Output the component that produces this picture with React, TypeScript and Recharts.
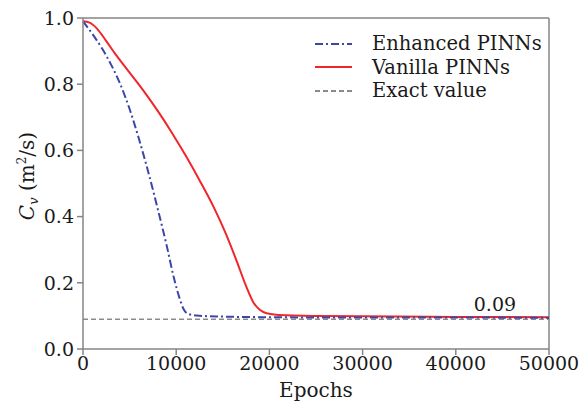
import { LineChart, Line, XAxis, YAxis, ReferenceLine, ReferenceDot, Label } from 'recharts'

const enhancedEpochs = [0, 1000, 2000, 3000, 4000, 5000, 6000, 7000, 8000, 9000, 9750, 10400, 10800, 11300, 12200, 15000, 20000, 30000, 40000, 50000]
const enhancedValues = [0.99, 0.952, 0.91, 0.86, 0.8, 0.725, 0.635, 0.535, 0.425, 0.31, 0.215, 0.15, 0.12, 0.106, 0.101, 0.098, 0.096, 0.095, 0.095, 0.094]

const vanillaEpochs = [0, 700, 1500, 2500, 3500, 5000, 6500, 8000, 9500, 11000, 12500, 14000, 15300, 16500, 17500, 18300, 19000, 19700, 21000, 25000, 30000, 40000, 50000]
const vanillaValues = [0.99, 0.986, 0.968, 0.93, 0.89, 0.835, 0.78, 0.72, 0.655, 0.585, 0.51, 0.43, 0.35, 0.265, 0.19, 0.14, 0.118, 0.108, 0.103, 0.1, 0.099, 0.097, 0.096]

const exactEpochs = [0, 50000]
const exactValue = 0.09

const xTicks = [0, 10000, 20000, 30000, 40000, 50000]
const yTicks = [0, 0.2, 0.4, 0.6, 0.8, 1.0]

const enhanced = enhancedEpochs.map((epoch, i) => ({ epoch, v: enhancedValues[i] }))
const vanilla = vanillaEpochs.map((epoch, i) => ({ epoch, v: vanillaValues[i] }))
const exact = exactEpochs.map((epoch) => ({ epoch, v: exactValue }))

// only DejaVu Serif resolves as a serif face here
const FONT = "'DejaVu Serif', serif"
const INK = '#1a1a1a'
const AXIS = '#858585'
const BLUE = '#3a47a8'
const RED = '#f0262a'
const GREY = '#8a8a8a'

const series = [
  { name: 'Enhanced PINNs', color: BLUE, dash: '8 3 2 3' },
  { name: 'Vanilla PINNs', color: RED, dash: undefined },
  { name: 'Exact value', color: GREY, dash: '5 3' },
]

function YLabel() {
  return (
    <text transform="translate(34,176) rotate(-90)" textAnchor="middle" fontFamily={FONT} fontSize={20} fill={INK}>
      <tspan fontStyle="italic">C</tspan>
      <tspan fontStyle="italic" fontSize={13} dy={4}>v</tspan>
      <tspan dy={-4}> (m</tspan>
      <tspan fontSize={12} dy={-8}>2</tspan>
      <tspan dy={8}>/s)</tspan>
    </text>
  )
}

export default function App() {
  const tickStyle = { fontFamily: FONT, fontSize: 19, fill: INK }
  return (
    <div style={{ position: 'absolute', left: 0, top: 0, width: 579, height: 403, background: '#fff' }}>
      <LineChart width={579} height={403} margin={{ top: 18, right: 30, left: 0, bottom: 0 }}>
        <XAxis
          dataKey="epoch"
          type="number"
          domain={[0, 50000]}
          ticks={xTicks}
          height={54}
          tick={tickStyle}
          tickSize={6}
          tickMargin={2}
          stroke={AXIS}
          strokeWidth={1.5}
          allowDuplicatedCategory={false}
        >
          <Label value="Epochs" position="insideBottom" offset={6} fontFamily={FONT} fontSize={20} fill={INK} />
        </XAxis>
        <YAxis
          type="number"
          domain={[0, 1]}
          ticks={yTicks}
          width={83}
          tick={tickStyle}
          tickSize={6}
          tickMargin={3}
          stroke={AXIS}
          strokeWidth={1.5}
          tickFormatter={(v: number) => v.toFixed(1)}
        >
          <Label content={() => <YLabel />} />
        </YAxis>
        <ReferenceLine y={1} stroke={AXIS} strokeWidth={1.5} />
        <ReferenceLine x={50000} stroke={AXIS} strokeWidth={1.5} />
        <Line data={exact} dataKey="v" type="linear" stroke={GREY} strokeWidth={1.5} strokeDasharray="5 3" dot={false} isAnimationActive={false} />
        <Line data={vanilla} dataKey="v" type="monotone" stroke={RED} strokeWidth={2} dot={false} isAnimationActive={false} />
        <Line data={enhanced} dataKey="v" type="monotone" stroke={BLUE} strokeWidth={2} strokeDasharray="8 3 2 3" dot={false} isAnimationActive={false} />
        <ReferenceDot
          x={44200}
          y={exactValue}
          r={1}
          fill="none"
          stroke="none"
          label={{ value: '0.09', position: 'top', offset: 7, fontFamily: FONT, fontSize: 19, fill: INK }}
        />
      </LineChart>
      <div style={{ position: 'absolute', left: 312, top: 32, fontFamily: FONT, fontSize: 19.5, color: INK }}>
        {series.map((s) => (
          <div key={s.name} style={{ display: 'flex', alignItems: 'center', height: 23.5 }}>
            <svg width={40} height={10} style={{ marginRight: 20 }}>
              <line x1={3} y1={5} x2={40} y2={5} stroke={s.color} strokeWidth={2} strokeDasharray={s.dash} />
            </svg>
            <span style={{ lineHeight: '23.5px', whiteSpace: 'nowrap' }}>{s.name}</span>
          </div>
        ))}
      </div>
    </div>
  )
}
